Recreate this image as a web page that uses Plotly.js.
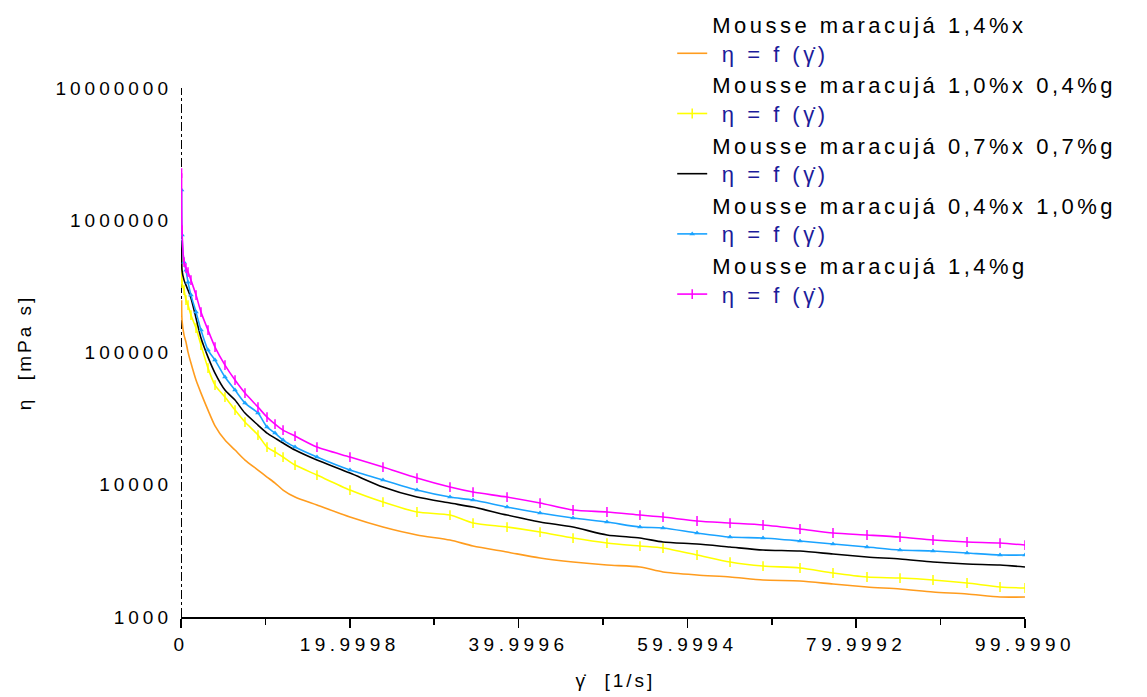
<!DOCTYPE html>
<html>
<head>
<meta charset="utf-8">
<script src="https://cdn.plot.ly/plotly-3.0.1.min.js"></script>
<style>
  html, body { margin: 0; padding: 0; background: #fff; }
  #plot { width: 1147px; height: 697px; }
  #plot .ytick text { letter-spacing: 4px; }
  #plot .xtick text { letter-spacing: 4.5px; }
  #plot .legendtext { letter-spacing: 3.5px; }
  #plot .legend .scrollbox { clip-path: none !important; }
  #plot .g-xtitle text, #plot .g-ytitle text { letter-spacing: 3px; }
</style>
</head>
<body>
<div id="plot"></div>
<script>
// Shear rate (1/s)
const shearRate = [0.07, 0.12, 0.36, 0.59, 0.83, 1.18, 1.78, 2.37, 3.2, 4.03, 5.21, 6.4, 7.58, 9.12, 10.19, 11.14, 12.09, 13.51, 16.11, 20.02, 23.93, 27.96, 31.87, 34.6, 38.63, 42.54, 46.45, 50.47, 54.38, 57.11, 61.14, 65.05, 68.96, 73.34, 77.25, 81.28, 85.19, 89.1, 93.13, 97.04, 99.999];

// Viscosity (mPa s) per formulation
const eta_14x = [248900, 175800, 135300, 119800, 100700, 83200, 61860, 49330, 36690, 27900, 21770, 18300, 15370, 12920, 11440, 10300, 9120, 8070, 7020, 5700, 4790, 4170, 3820, 3440, 3099, 2793, 2604, 2472, 2388, 2189, 2077, 2006, 1904, 1872, 1776, 1686, 1628, 1545, 1492, 1416, 1416];
const eta_10x04g = [594000, 334600, 296200, 248900, 228200, 191800, 152900, 113700, 76200, 56700, 46010, 36690, 29780, 23750, 19280, 17670, 16200, 14090, 11840, 9120, 7400, 6220, 5900, 5135, 4790, 4390, 3955, 3625, 3440, 3322, 2942, 2604, 2429, 2346, 2151, 2006, 1971, 1904, 1807, 1686, 1657];
const eta_07x07g = [707000, 419600, 352600, 323200, 296200, 257800, 182000, 128500, 92300, 69900, 51960, 43670, 34830, 28270, 24590, 22540, 20670, 18300, 15370, 12260, 9610, 8070, 7270, 6780, 5900, 5225, 4790, 4170, 3955, 3690, 3563, 3382, 3210, 3153, 2993, 2841, 2744, 2604, 2515, 2472, 2388];
const eta_04x10g = [1690000, 772000, 482000, 419600, 340500, 271600, 202000, 147700, 104300, 87600, 65200, 51960, 41450, 34830, 27300, 24590, 21770, 19280, 16200, 12920, 10850, 9120, 8070, 7660, 6780, 6110, 5600, 5225, 4790, 4710, 4315, 4025, 3955, 3755, 3563, 3382, 3210, 3153, 3045, 2942, 2942];
const eta_14g = [2270000, 842000, 482000, 434500, 405300, 352600, 271600, 202000, 147700, 109900, 80300, 61860, 49330, 38670, 32490, 28760, 25910, 23340, 19280, 16200, 13610, 11240, 9610, 8810, 8070, 7270, 6440, 6220, 5900, 5700, 5320, 5135, 4960, 4630, 4315, 4170, 4025, 3820, 3690, 3625, 3500];

const seriesNames = ["Mousse maracujá 1,4%x", "Mousse maracujá 1,0%x 0,4%g", "Mousse maracujá 0,7%x 0,7%g", "Mousse maracujá 0,4%x 1,0%g", "Mousse maracujá 1,4%g"];
const subLabel = "η = f (γ̇)";

const xTickVals = [0, 19.9998, 39.9996, 59.9994, 79.9992, 99.999];
const xTickText = ["0", "19.9998", "39.9996", "59.9994", "79.9992", "99.9990"];
const xMinorVals = [9.9999, 29.9997, 49.9995, 69.9993, 89.9991];
const yTickVals = [1000, 10000, 100000, 1000000, 10000000];
const yTickText = ["1000", "10000", "100000", "1000000", "10000000"];

const seriesData = [eta_14x, eta_10x04g, eta_07x07g, eta_04x10g, eta_14g];
const colors = ["#ff9c1e", "#ffff00", "#000000", "#1aa3ff", "#ff00ff"];
const markers = [null, "line-ns", null, "triangle-up", "line-ns"];

const traces = seriesData.map((ys, i) => {
  const t = {
    type: "scatter",
    x: shearRate,
    y: ys,
    name: seriesNames[i] + "<br>&nbsp;<span style='color:#1c1c9a'>" + subLabel + "</span>",
    line: { color: colors[i], width: 1.6, shape: "spline", smoothing: 0.7 },
    mode: markers[i] ? "lines+markers" : "lines",
    hoverinfo: "x+y"
  };
  if (markers[i]) {
    t.marker = markers[i] === "triangle-up"
      ? { symbol: "triangle-up", size: 5, color: colors[i] }
      : { symbol: markers[i], size: 7, color: colors[i], line: { color: colors[i], width: 1.5 } };
  }
  return t;
});

const layout = {
  width: 1147,
  height: 697,
  paper_bgcolor: "#ffffff",
  plot_bgcolor: "#ffffff",
  margin: { l: 181, r: 122, t: 88, b: 80, autoexpand: false },
  font: { family: "Arial, 'Liberation Sans', sans-serif", color: "#000", size: 19 },
  showlegend: true,
  legend: {
    xref: "paper", yref: "paper",
    x: 0.582, y: 1.159, xanchor: "left", yanchor: "top",
    bgcolor: "rgba(0,0,0,0)",
    font: { size: 22, color: "#000" },
    valign: "bottom",
    itemwidth: 30,
    traceorder: "normal"
  },
  xaxis: {
    range: [0, 99.999],
    showgrid: false,
    zeroline: false,
    showline: true,
    linecolor: "#000",
    linewidth: 2,
    ticks: "outside",
    ticklen: 9,
    tickwidth: 1.5,
    tickcolor: "#000",
    tickvals: xTickVals,
    ticktext: xTickText,
    tickfont: { size: 19 },
    minor: { tickvals: xMinorVals, ticks: "outside", ticklen: 6, tickwidth: 1.5, tickcolor: "#000" },
    title: { text: "&nbsp;&nbsp;&nbsp;γ̇  [1/s]", font: { size: 19 }, standoff: 20 }
  },
  yaxis: {
    type: "log",
    range: [3, 7],
    showgrid: false,
    zeroline: false,
    showline: false,
    ticks: "",
    tickvals: yTickVals,
    ticktext: yTickText,
    tickfont: { size: 19 },
    ticklabelstandoff: 8,
    title: { text: "η  [mPa s]", font: { size: 19 }, standoff: 50 }
  },
  shapes: [
    { type: "line", xref: "x", yref: "paper", x0: 0, x1: 0, y0: 0, y1: 1, line: { color: "#000", width: 2, dash: "dashdot" }, layer: "below" }
  ]
};

Plotly.newPlot("plot", traces, layout, { displayModeBar: false, staticPlot: true });
</script>
</body>
</html>
